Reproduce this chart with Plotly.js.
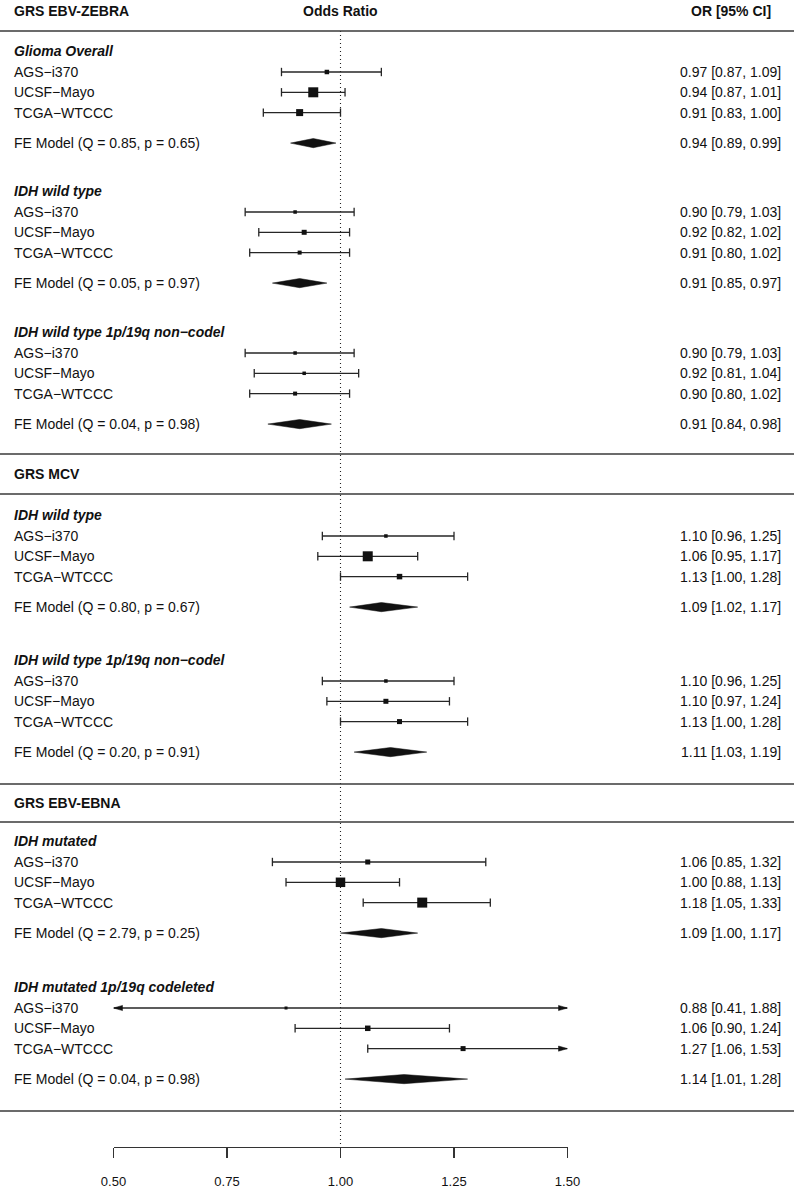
<!DOCTYPE html>
<html><head><meta charset="utf-8">
<script src="https://cdn.plot.ly/plotly-3.0.1.min.js"></script>
<style>html,body{margin:0;padding:0;background:#fff}#chart{width:794px;height:1190px}</style>
</head><body><div id="chart"></div>
<script>
// ---------------- data ----------------
const groupTitles = ['GRS EBV-ZEBRA', 'GRS MCV', 'GRS EBV-EBNA'];
const subgroupNames = ['Glioma Overall', 'IDH wild type', 'IDH wild type 1p/19q non\u2212codel',
  'IDH wild type', 'IDH wild type 1p/19q non\u2212codel', 'IDH mutated', 'IDH mutated 1p/19q codeleted'];
const studyNames = ['AGS\u2212i370', 'UCSF\u2212Mayo', 'TCGA\u2212WTCCC'];
const studyOR    = [[0.97,0.94,0.91],[0.90,0.92,0.91],[0.90,0.92,0.90],[1.10,1.06,1.13],[1.10,1.10,1.13],[1.06,1.00,1.18],[0.88,1.06,1.27]];
const studyLower = [[0.87,0.87,0.83],[0.79,0.82,0.80],[0.79,0.81,0.80],[0.96,0.95,1.00],[0.96,0.97,1.00],[0.85,0.88,1.05],[0.41,0.90,1.06]];
const studyUpper = [[1.09,1.01,1.00],[1.03,1.02,1.02],[1.03,1.04,1.02],[1.25,1.17,1.28],[1.25,1.24,1.28],[1.32,1.13,1.33],[1.88,1.24,1.53]];
const studyWeight = [[4.5,10,7],[3.5,5,4],[3.5,3.5,4],[3.5,10,5.5],[3.5,5,5],[5,9.5,10],[3,5.5,5]];
const feOR    = [0.94,0.91,0.91,1.09,1.11,1.09,1.14];
const feLower = [0.89,0.85,0.84,1.02,1.03,1.00,1.01];
const feUpper = [0.99,0.97,0.98,1.17,1.19,1.17,1.28];
const feQ = ['0.85','0.05','0.04','0.80','0.20','2.79','0.04'];
const feP = ['0.65','0.97','0.98','0.67','0.91','0.25','0.98'];
const axisTicks = [0.5, 0.75, 1.0, 1.25, 1.5];
const axisTickLabels = ['0.50', '0.75', '1.00', '1.25', '1.50'];
const refValue = 1.0;

// ---------------- layout geometry ----------------
const W = 794, H = 1190;
const AX0 = 113.5, AX1 = 567.5;          // pixel x of axis ends
const XMIN = 0.5, XMAX = 1.5;
const headingY = [51, 191, 332, 515, 660, 841, 987];
const groupTitleY = [11, 474, 803];
const ruleY = [31, 454, 494, 784, 822, 1111];
const axisY = 1147;
const firstOff = 21, pitch = 20.3, feOff = 30.5;
const pxPerUnit = (AX1 - AX0) / (XMAX - XMIN);
const arrowLen = 9 / pxPerUnit, arrowHalf = 2.6, diaHalf = 4.6;

const FONT = 'Liberation Sans, Arial, Helvetica, sans-serif';
const TXT = '#111';
const LINE = '#262626';

const ciX = [], ciY = [], capX = [], capY = [], arX = [], arY = [];
const sqX = [], sqY = [], sqS = [], dX = [], dY = [];
const ann = [];

function addText(text, xpx, y, anchor) {
  ann.push({ text: text, x: xpx / W, xref: 'paper', y: y, yref: 'y', xanchor: anchor, yanchor: 'middle',
    showarrow: false, font: { family: FONT, size: 14, color: TXT } });
}
function fmt(v) { return v.toFixed(2); }

subgroupNames.forEach((name, s) => {
  const h = headingY[s];
  addText('<b><i>' + name + '</i></b>', 12, h, 'left');
  for (let i = 0; i < studyNames.length; i++) {
    const y = h + firstOff + pitch * i;
    const est = studyOR[s][i], lo = studyLower[s][i], hi = studyUpper[s][i];
    const loC = Math.max(lo, XMIN), hiC = Math.min(hi, XMAX);
    ciX.push(loC, hiC, null); ciY.push(y, y, null);
    if (lo >= XMIN) { capX.push(lo); capY.push(y); }
    else { arX.push(XMIN, XMIN + arrowLen, XMIN + arrowLen, XMIN, null); arY.push(y, y - arrowHalf, y + arrowHalf, y, null); }
    if (hi <= XMAX) { capX.push(hi); capY.push(y); }
    else { arX.push(XMAX, XMAX - arrowLen, XMAX - arrowLen, XMAX, null); arY.push(y, y - arrowHalf, y + arrowHalf, y, null); }
    sqX.push(est); sqY.push(y); sqS.push(studyWeight[s][i]);
    addText(studyNames[i], 12, y, 'left');
    addText(fmt(est) + ' [' + fmt(lo) + ', ' + fmt(hi) + ']', 783, y, 'right');
  }
  const fy = h + firstOff + pitch * (studyNames.length - 1) + feOff;
  dX.push(feLower[s], feOR[s], feUpper[s], feOR[s], feLower[s], null);
  dY.push(fy, fy - diaHalf, fy, fy + diaHalf, fy, null);
  addText('FE Model (Q = ' + feQ[s] + ', p = ' + feP[s] + ')', 12, fy, 'left');
  addText(fmt(feOR[s]) + ' [' + fmt(feLower[s]) + ', ' + fmt(feUpper[s]) + ']', 783, fy, 'right');
});

groupTitles.forEach((g, i) => addText('<b>' + g + '</b>', 12, groupTitleY[i], 'left'));
ann.push({ text: '<b>Odds Ratio</b>', x: refValue, xref: 'x', y: groupTitleY[0], yref: 'y', xanchor: 'center', yanchor: 'middle',
  showarrow: false, font: { family: FONT, size: 14, color: TXT } });
ann.push({ text: '<b>OR [95% CI]</b>', x: 731 / W, xref: 'paper', y: groupTitleY[0], yref: 'y', xanchor: 'center', yanchor: 'middle',
  showarrow: false, font: { family: FONT, size: 14, color: TXT } });

const shapes = ruleY.map(y => ({ type: 'line', xref: 'paper', x0: 0, x1: 1, yref: 'y', y0: y, y1: y,
  line: { color: '#3a3a3a', width: 1.4 } }));
shapes.push({ type: 'line', xref: 'x', x0: refValue, x1: refValue, yref: 'y', y0: ruleY[0], y1: axisY,
  line: { color: '#222', width: 1.1, dash: '1px,3px' }, layer: 'below' });

const traces = [
  { type: 'scatter', mode: 'lines', x: ciX, y: ciY, line: { color: LINE, width: 1.3 }, hoverinfo: 'skip', connectgaps: false },
  { type: 'scatter', mode: 'markers', x: capX, y: capY, marker: { symbol: 'line-ns-open', size: 6, color: LINE, opacity: 1, line: { color: LINE, width: 1.3 } }, hoverinfo: 'skip', cliponaxis: false },
  { type: 'scatter', mode: 'lines', x: arX, y: arY, fill: 'toself', fillcolor: '#111', line: { color: '#111', width: 0.5 }, hoverinfo: 'skip' },
  { type: 'scatter', mode: 'markers', x: sqX, y: sqY, marker: { symbol: 'square', size: sqS, color: '#111', opacity: 1, line: { width: 0 } }, hoverinfo: 'skip', cliponaxis: false },
  { type: 'scatter', mode: 'lines', x: dX, y: dY, fill: 'toself', fillcolor: '#111', line: { color: '#111', width: 0.5 }, hoverinfo: 'skip' }
];

const layout = {
  width: W, height: H, margin: { l: 0, r: 0, t: 0, b: 0 }, showlegend: false,
  paper_bgcolor: '#fff', plot_bgcolor: 'rgba(0,0,0,0)',
  xaxis: { domain: [AX0 / W, AX1 / W], range: [XMIN, XMAX], anchor: 'free', position: 1 - axisY / H,
    tickvals: axisTicks, ticktext: axisTickLabels, ticks: 'outside', ticklen: 10, tickwidth: 1.2, tickcolor: '#333',
    showline: true, linecolor: '#333', linewidth: 1.2, showgrid: false, zeroline: false,
    tickfont: { family: FONT, size: 13, color: TXT }, ticklabelstandoff: 12, fixedrange: true },
  yaxis: { domain: [0, 1], range: [H, 0], visible: false, anchor: 'free', position: 0, fixedrange: true },
  shapes: shapes, annotations: ann
};
Plotly.newPlot('chart', traces, layout, { staticPlot: true });
</script></body></html>
